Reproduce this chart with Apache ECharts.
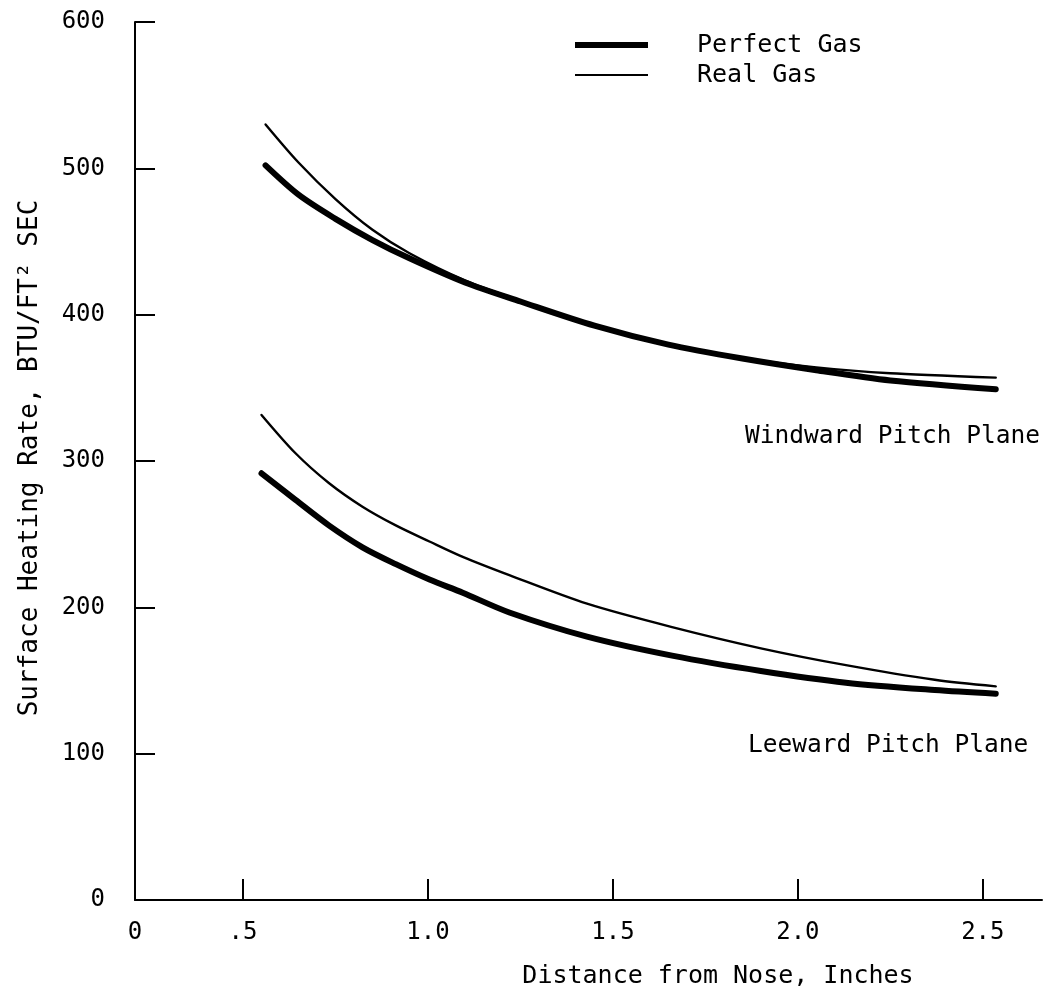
<!DOCTYPE html>
<html>
<head>
<meta charset="utf-8">
<title>Surface Heating Rate vs Distance from Nose</title>
<script src="https://cdn.jsdelivr.net/npm/echarts@6/dist/echarts.min.js"></script>
<style>
  html, body { margin: 0; padding: 0; background: #ffffff; }
  #chart { width: 1062px; height: 992px; }
</style>
</head>
<body>
<div id="chart"></div>
<script>
// Distance from nose (inches) where each curve was sampled
const windwardX = [0.561, 0.65, 0.75, 0.85, 0.95, 1.1, 1.25, 1.45, 1.65, 1.85, 2.05, 2.25, 2.535];
const windwardPerfect = [502, 482, 465.5, 451, 438.5, 422, 409, 392.5, 379.5, 370, 362, 355, 349];
const windwardReal = [530, 504, 479, 458, 442, 423.5, 409.5, 392.5, 380, 370.5, 364, 360, 357];

const leewardX = [0.55, 0.642, 0.732, 0.823, 0.913, 1.004, 1.094, 1.22, 1.43, 1.66, 1.9, 2.13, 2.37, 2.535];
const leewardPerfect = [291.6, 273.4, 256, 241, 229.5, 219, 210, 196.5, 180, 167, 156.5, 148.5, 143.5, 141];
const leewardReal = [331.5, 305.3, 285, 268.8, 256, 245, 234.5, 222, 202.5, 186.5, 172, 160.5, 150.5, 146];

// Horizontal axis: the origin is drawn as "0" (broken scale below .5)
const xAxisStart = 0.208;
const xAxisEnd = 2.66;
const xTickValues = [0.5, 1.0, 1.5, 2.0, 2.5];
const xLabelValues = [xAxisStart, 0.5, 1.0, 1.5, 2.0, 2.5];
const xLabelTexts = ['0', '.5', '1.0', '1.5', '2.0', '2.5'];

const yMin = 0, yMax = 600, yStep = 100;

const seriesNames = ['Perfect Gas', 'Real Gas'];
const FONT = '"DejaVu Sans Mono", monospace';
const INK = '#000000';

function pairs(xs, ys) { return xs.map((x, i) => [x, ys[i]]); }

function curve(name, xs, ys, width) {
  return {
    name: name,
    type: 'line',
    data: pairs(xs, ys),
    smooth: 0.3,
    symbol: 'none',
    silent: true,
    lineStyle: { color: INK, width: width, cap: 'round', join: 'round' },
    itemStyle: { color: INK }
  };
}

const chart = echarts.init(document.getElementById('chart'), null, { renderer: 'canvas' });

chart.setOption({
  backgroundColor: '#ffffff',
  animation: false,
  grid: { left: 135, right: 20, top: 22, bottom: 92 },
  legend: {
    orient: 'vertical',
    left: 570,
    top: 25,
    itemWidth: 73,
    itemHeight: 14,
    itemGap: 0,
    selectedMode: false,
    data: [
      { name: seriesNames[0], icon: 'path://M0,0 L73,0 L73,6 L0,6 Z', itemStyle: { color: INK } },
      { name: seriesNames[1], icon: 'path://M0,0 L73,0 L73,2 L0,2 Z', itemStyle: { color: INK } }
    ],
    textStyle: { fontFamily: FONT, fontSize: 25, color: INK, lineHeight: 30, padding: [0, 0, 0, 44] }
  },
  xAxis: {
    type: 'value',
    min: xAxisStart,
    max: xAxisEnd,
    axisLine: { show: true, lineStyle: { color: INK, width: 2 } },
    axisTick: { show: true, inside: true, length: 21, customValues: xTickValues, lineStyle: { color: INK, width: 2 } },
    axisLabel: {
      customValues: xLabelValues,
      margin: 21,
      fontFamily: FONT,
      fontSize: 24,
      color: INK,
      formatter: function (v) {
        const i = xLabelValues.findIndex(t => Math.abs(t - v) < 1e-6);
        return i >= 0 ? xLabelTexts[i] : '';
      }
    },
    splitLine: { show: false }
  },
  yAxis: {
    type: 'value',
    min: yMin,
    max: yMax,
    interval: yStep,
    axisLine: { show: true, lineStyle: { color: INK, width: 2 } },
    axisTick: { show: true, inside: true, length: 20, lineStyle: { color: INK, width: 2 } },
    axisLabel: { margin: 30, fontFamily: FONT, fontSize: 24, color: INK },
    splitLine: { show: false }
  },
  graphic: [
    {
      type: 'text', x: 30, y: 458, rotation: Math.PI / 2,
      style: { text: 'Surface Heating Rate, BTU/FT\u00B2 SEC', font: '26px ' + FONT, fill: INK, align: 'center', verticalAlign: 'middle' }
    },
    {
      type: 'text', x: 718, y: 976,
      style: { text: 'Distance from Nose, Inches', font: '25px ' + FONT, fill: INK, align: 'center', verticalAlign: 'middle' }
    },
    {
      type: 'text', x: 745, y: 437,
      style: { text: 'Windward Pitch Plane', font: '24.5px ' + FONT, fill: INK, align: 'left', verticalAlign: 'middle' }
    },
    {
      type: 'text', x: 748, y: 746,
      style: { text: 'Leeward Pitch Plane', font: '24.5px ' + FONT, fill: INK, align: 'left', verticalAlign: 'middle' }
    }
  ],
  series: [
    curve(seriesNames[0], windwardX, windwardPerfect, 6),
    curve(seriesNames[1], windwardX, windwardReal, 2.4),
    curve(seriesNames[0], leewardX, leewardPerfect, 6),
    curve(seriesNames[1], leewardX, leewardReal, 2.4)
  ]
});
</script>
</body>
</html>
